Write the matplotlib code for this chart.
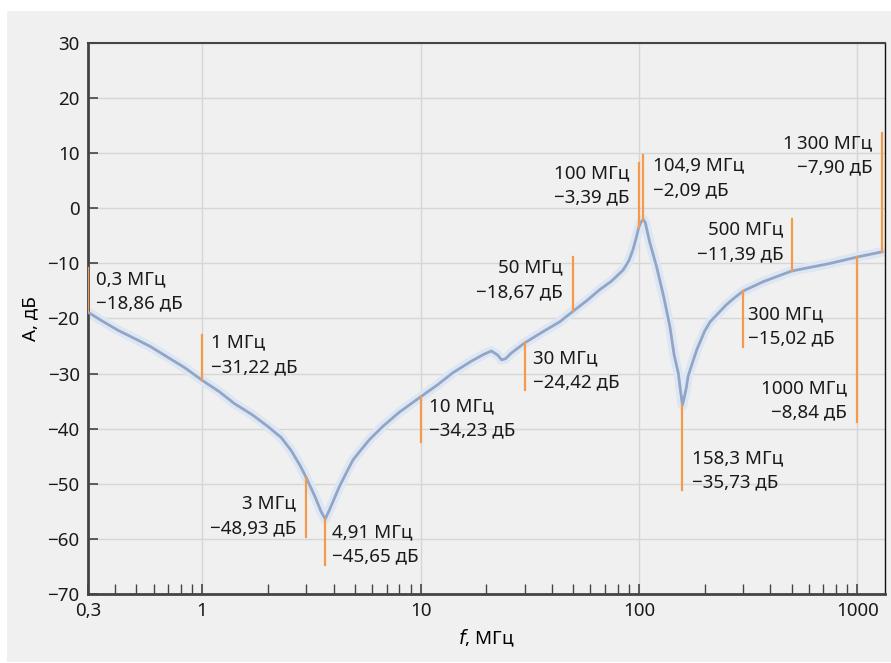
import matplotlib
matplotlib.use('Agg')
import matplotlib.pyplot as plt
from matplotlib.patches import Rectangle
from matplotlib.ticker import FixedLocator, FixedFormatter, LogLocator, NullFormatter

plt.rcParams['font.family'] = ['Noto Sans', 'DejaVu Sans']

# АЧХ: частота (МГц) и затухание (дБ)
freq = [0.3, 0.35, 0.41, 0.5, 0.58, 0.7, 0.83, 1.0, 1.2, 1.4, 1.7, 2.0, 2.3,
        2.55, 2.8, 3.0, 3.3, 3.5, 3.66, 3.85, 4.25, 4.6, 4.91, 5.4, 5.83, 6.71,
        8.0, 10, 12, 14, 17, 19.5, 21.1, 22.5, 23.5, 24.5, 26, 30, 36, 43.4, 50,
        58, 66, 75, 84.7, 90, 93.8, 97, 100, 102.5, 104.9, 107, 112, 120.5, 130,
        138.7, 145, 151.5, 155, 158.3, 161, 165, 168, 175, 184, 200, 212, 250,
        271, 300, 371.8, 500, 751.6, 1000, 1300]
gain = [-18.86, -20.5, -22.1, -23.8, -25.1, -27.1, -28.9, -31.22, -33.3, -35.4,
        -37.5, -39.6, -41.6, -43.9, -46.6, -48.93, -52.5, -55.0, -56.4, -54.5,
        -50.5, -47.8, -45.65, -43.6, -42.0, -39.6, -37.0, -34.23, -32.0, -29.9,
        -27.8, -26.5, -25.9, -26.6, -27.5, -27.3, -26.3, -24.42, -22.5, -20.6,
        -18.67, -16.7, -14.8, -13.2, -11.2, -9.5, -7.6, -5.5, -3.39, -2.4, -2.09,
        -2.6, -6.1, -10.6, -16.1, -21.5, -26.6, -29.9, -33.0, -35.73, -34.5,
        -32.5, -30.5, -28.3, -25.7, -22.3, -20.6, -17.6, -16.4, -15.02, -13.3,
        -11.39, -10.0, -8.84, -7.90]

# отмеченные точки
mark_freq = [0.3, 1, 3, 3.66, 10, 30, 50, 100, 104.9, 158.3, 300, 500, 1000, 1300]
mark_gain = [-18.86, -31.22, -48.93, -56.4, -34.23, -24.42, -18.67, -3.39, -2.09,
             -35.73, -15.02, -11.39, -8.84, -7.90]
mark_text = ['0,3 МГц\n−18,86 дБ', '1 МГц\n−31,22 дБ', '3 МГц\n−48,93 дБ',
             '4,91 МГц\n−45,65 дБ', '10 МГц\n−34,23 дБ', '30 МГц\n−24,42 дБ',
             '50 МГц\n−18,67 дБ', '100 МГц\n−3,39 дБ', '104,9 МГц\n−2,09 дБ',
             '158,3 МГц\n−35,73 дБ', '300 МГц\n−15,02 дБ', '500 МГц\n−11,39 дБ',
             '1000 МГц\n−8,84 дБ', '1\u2009300 МГц\n−7,90 дБ']

x_ticks = [0.3, 1, 10, 100, 1000]
x_tick_labels = ['0,3', '1', '10', '100', '1000']

# where each orange line ends, and where its caption sits
line_end = [-10.8, -23.0, -59.7, -64.7, -42.4, -33.0, -8.9, 8.2, 9.7, -51.2,
            -25.1, -2.0, -38.8, 13.7]
text_x = [0.3265, 1.10, 2.70, 3.95, 10.88, 32.6, 44.8, 90.9, 115.9, 175.0,
          316, 457.8, 900, 1172]
text_y = [-15.1, -26.6, -55.8, -61.05, -38.06, -29.35, -13.0, 4.14, 5.5, -47.6,
          -21.45, -6.1, -34.8, 9.6]
text_ha = ['left', 'left', 'right', 'left', 'left', 'left', 'right', 'right',
           'left', 'left', 'left', 'right', 'right', 'right']

bg = '#f0f0f0'
fig = plt.figure(figsize=(8.91, 6.63), dpi=100, facecolor='white')
fig.add_artist(Rectangle((7 / 891, 1 / 663), 1 - 7 / 891, 651 / 663,
                         transform=fig.transFigure, facecolor=bg,
                         edgecolor='none', zorder=-10))
ax = fig.add_axes([88 / 891, 1 - 594 / 663, 797 / 891, 551 / 663])
ax.set_facecolor(bg)

ax.set_xscale('log')
ax.set_xlim(0.3, 1340)
ax.set_ylim(-70, 30)

ax.grid(True, which='major', color='#d6d6d6', linewidth=1)
ax.set_axisbelow(True)

# кривая с мягким ореолом
ax.plot(freq, gain, color='#dde7f3', linewidth=7, solid_capstyle='round',
        solid_joinstyle='round', zorder=2)
ax.plot(freq, gain, color='#93a5c6', linewidth=2, solid_joinstyle='round', zorder=3)

for f, g, e in zip(mark_freq, mark_gain, line_end):
    ax.plot([f, f], [g, e], color='#f59a4c', linewidth=1.6, zorder=4)

for t, tx, ty, ha in zip(mark_text, text_x, text_y, text_ha):
    ax.text(tx, ty, t, ha=ha, va='center', fontsize=13.5, color='#1a1a1a',
            linespacing=1.45, zorder=5)

ax.xaxis.set_major_locator(FixedLocator(x_ticks))
ax.xaxis.set_major_formatter(FixedFormatter(x_tick_labels))
ax.xaxis.set_minor_locator(LogLocator(base=10, subs=range(2, 10)))
ax.xaxis.set_minor_formatter(NullFormatter())
ax.set_yticks(range(-70, 31, 10))

ax.tick_params(which='both', direction='in', color='#444444', labelsize=13.5,
               labelcolor='#1a1a1a')
ax.tick_params(which='major', length=7, width=1.2, pad=6)
ax.tick_params(which='minor', length=7, width=1)

for side in ['left', 'bottom']:
    ax.spines[side].set_color('#444444')
    ax.spines[side].set_linewidth(2)
ax.spines['top'].set_color('#444444')
ax.spines['top'].set_linewidth(1.5)
ax.spines['right'].set_color('#111111')
ax.spines['right'].set_linewidth(1)

ax.set_xlabel('$f$, МГц', fontsize=13.5, labelpad=5)
ax.set_ylabel('А, дБ', fontsize=13.5, labelpad=6)

fig.savefig('out.png', dpi=100, facecolor=fig.get_facecolor())
